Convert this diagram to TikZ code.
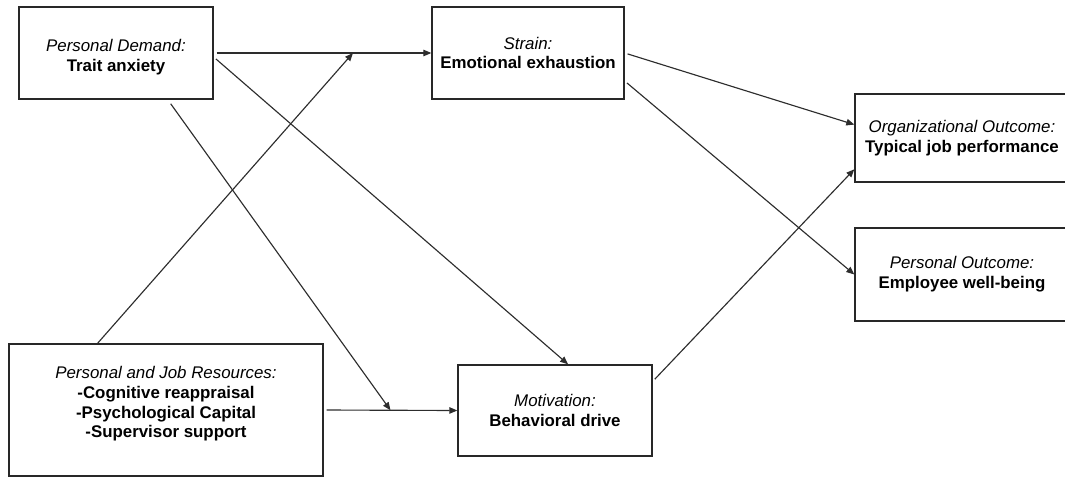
\documentclass[tikz,border=0pt]{standalone}
\usepackage{xcolor}
\usepackage{fontspec}
\setmainfont{Liberation Sans}
\usetikzlibrary{arrows.meta, positioning, calc}
\definecolor{boxline}{RGB}{40,40,40}
\definecolor{arrline}{RGB}{45,45,45}
\tikzset{
  box/.style={rectangle, draw=boxline, fill=white, line width=0.8pt, align=center,
    font=\fontsize{9.6}{11.3}\selectfont, inner sep=0pt},
  arrow/.style={-{Triangle[length=1.6mm,width=1.3mm]}, line width=0.65pt, color=arrline},
  gap/.style={shorten <=0.06cm}
}

\begin{document}
\begin{tikzpicture}[x=0.02cm, y=-0.02cm]
\useasboundingbox (0,0) rectangle (1065,477);
% boxes
\node[box, minimum width=3.88cm, minimum height=1.84cm] (TA) at (116,53)
  {\rule{0pt}{11.5pt}\textit{Personal Demand:}\\\textbf{Trait anxiety}};
\node[box, minimum width=3.84cm, minimum height=1.84cm] (EE) at (528,53)
  {\textit{Strain:}\\\textbf{Emotional exhaustion}};
\node[box, minimum width=4.28cm, minimum height=1.76cm] (OO) at (962,138)
  {\textit{Organizational Outcome:}\\\textbf{Typical job performance}};
\node[box, minimum width=4.28cm, minimum height=1.86cm] (PO) at (962,274.5)
  {\textit{Personal Outcome:}\\\textbf{Employee well-being}};
\node[box, minimum width=6.28cm, minimum height=2.64cm] (PJR) at (166,410)
  {\textit{Personal and Job Resources:}\\\textbf{-Cognitive reappraisal}\\
   \textbf{-Psychological Capital}\\\textbf{-Supervisor support}\rule[-9pt]{0pt}{1pt}};
\node[box, minimum width=3.88cm, minimum height=1.82cm] (BD) at (555,410.5)
  {\textit{Motivation:}\\\textbf{Behavioral drive}};
% junctions on the paths
\coordinate (J1) at ($(TA.east)!0.64!(EE.west)$);
\coordinate (J2) at ($(PJR.east)!0.5!(BD.west)$);
% connectors
\draw[arrow, gap] (TA.east) -- (EE.west);
\draw[arrow, gap] (PJR.east) -- (BD.west);
\draw[arrow] ($(PJR.north west)!0.283!(PJR.north east)$) -- (J1);
\draw[arrow, shorten <=0.1cm] ($(TA.south)!0.53!(TA.south east)$) -- (J2);
\draw[arrow, gap] ([yshift=-0.08cm]TA.east) -- ($(BD.north)!0.134!(BD.north east)$);
\draw[arrow, gap] (EE.east) -- ($(OO.west)!0.3!(OO.north west)$);
\draw[arrow, gap] ($(EE.east)!0.6!(EE.south east)$) -- (PO.west);
\draw[arrow, gap] ($(BD.east)!0.63!(BD.north east)$) -- ($(OO.west)!0.7!(OO.south west)$);
\end{tikzpicture}
\end{document}
